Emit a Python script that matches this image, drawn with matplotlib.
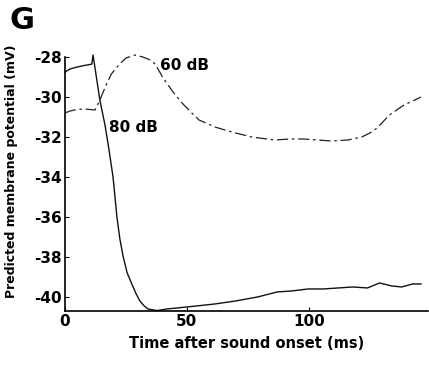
import matplotlib
matplotlib.use("Agg")
import matplotlib.pyplot as plt

# 80 dB trace (time in ms, potential in mV)
t_80 = [0, 2, 5, 8, 10, 11, 11.5, 14.3, 16.4, 18, 19.7, 21.3, 22.5, 23.8, 25.5, 27.4, 29, 30.7, 32.5, 34, 37.7,
        41.8, 46, 54, 61.5, 70, 79, 87, 93, 99.6, 106, 112, 118, 124, 129, 134, 138, 142.6, 146]
v_80 = [-28.75, -28.6, -28.5, -28.42, -28.38, -28.35, -27.9, -30.15, -31.4, -32.6, -34.0, -36.0, -37.1, -37.95, -38.8,
        -39.35, -39.8, -40.2, -40.45, -40.6, -40.68,
        -40.6, -40.55, -40.45, -40.35, -40.2, -40.0, -39.75, -39.7, -39.6, -39.6, -39.55, -39.5, -39.55, -39.3, -39.45,
        -39.5, -39.35, -39.35]

# 60 dB trace
t_60 = [0, 2, 5, 8, 10, 12.3, 14.3, 16.5, 19, 22, 25, 28.7, 32, 35, 37, 40, 44, 48, 52, 55, 61.5, 65.6, 70, 76.6,
        86, 92, 98, 104, 109, 116, 121.7, 125, 128, 133, 139, 146]
v_60 = [-30.8, -30.7, -30.62, -30.6, -30.62, -30.65, -30.15, -29.5, -28.85, -28.4, -28.05, -27.9, -28.0, -28.15,
        -28.35, -29.0, -29.7, -30.3, -30.8, -31.15, -31.5, -31.65, -31.8, -32.0,
        -32.15, -32.1, -32.1, -32.15, -32.2, -32.15, -32.0, -31.8, -31.55, -30.9, -30.4, -30.0]

x_ticks = [0, 50, 100]
y_ticks = [-40, -38, -36, -34, -32, -30, -28]

plt.rcParams['font.family'] = ['DejaVu Sans']
plt.rcParams['font.weight'] = 'bold'

fig = plt.figure(figsize=(4.29, 3.68), dpi=100)
ax = fig.add_axes([0.1515, 0.155, 0.847, 0.69])

ax.plot(t_80, v_80, color='#111111', lw=1.0, ls='-', clip_on=False)
ax.plot(t_60, v_60, color='#222222', lw=0.9, dashes=(9, 3, 2, 3), clip_on=False)

ax.set_xlim(0, 149)
ax.set_ylim(-40.7, -28.0)
ax.set_xticks(x_ticks)
ax.set_yticks(y_ticks)
ax.set_xticklabels([str(v) for v in x_ticks], fontsize=11, fontweight='bold')
ax.set_yticklabels([str(v) for v in y_ticks], fontsize=11, fontweight='bold')
ax.tick_params(direction='in', length=3, width=0.8, pad=2)
for s in ['top', 'right']:
    ax.spines[s].set_visible(False)
for s in ['left', 'bottom']:
    ax.spines[s].set_linewidth(1.2)

ax.set_xlabel('Time after sound onset (ms)', fontsize=10.5, fontweight='bold')
ax.xaxis.set_label_coords(0.5, -0.10)
ax.set_ylabel('Predicted membrane potential (mV)', fontsize=9, fontweight='bold')
ax.yaxis.set_label_coords(-0.13, 0.55)

ax.text(39, -28.4, '60 dB', fontsize=11, fontweight='bold', va='center', ha='left')
ax.text(18.0, -31.5, '80 dB', fontsize=11, fontweight='bold', va='center', ha='left')

fig.text(0.022, 0.985, 'G', fontsize=22, fontweight='bold', va='top', ha='left')

fig.savefig('out.png', dpi=100)
